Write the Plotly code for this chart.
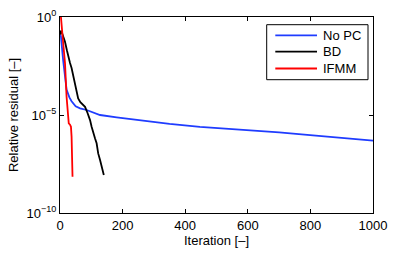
import plotly.graph_objects as go

# Data
series_names = ["No PC", "BD", "IFMM"]
series_colors = ["#1f3cff", "black", "#ff0000"]

nopc_iter = [0, 3, 10, 21, 30, 37, 50, 64, 85, 128, 181, 250, 288, 350, 447, 520, 607, 700, 799, 900, 1000]
nopc_res = [1.26e-1, 1.0e-1, 6.3e-3, 2.0e-4, 7.9e-5, 5.0e-5, 2.8e-5, 2.2e-5, 1.8e-5, 1.0e-5, 7.6e-6,
            5.6e-6, 4.6e-6, 3.5e-6, 2.5e-6, 2.1e-6, 1.7e-6, 1.3e-6, 9.5e-7, 7.1e-7, 4.9e-7]

bd_iter = [0, 3, 5, 10, 16, 22, 27, 32, 37, 43, 48, 53, 58, 65, 72, 80, 88, 96, 101, 106, 112, 117, 122, 128, 134, 140]
bd_res = [1.26e-1, 2.0e-1, 1.78e-1, 1.0e-1, 5.5e-2, 2.0e-2, 7.9e-3, 4.5e-3, 2.5e-3, 1.0e-3, 4.2e-4, 1.6e-4,
          7.1e-5, 4.5e-5, 3.5e-5, 2.6e-5, 1.26e-5, 5.5e-6, 2.5e-6, 1.2e-6, 6.3e-7, 3.6e-7, 1.1e-7, 5.0e-8,
          2.0e-8, 8.7e-9]

ifmm_iter = [0, 3, 10, 16, 21, 27, 28, 32, 35, 37, 38, 40]
ifmm_res = [2.0, 1.0, 5.0e-2, 4.4e-3, 8.5e-5, 5.5e-6, 3.7e-6, 3.2e-6, 2.5e-6, 7.9e-7, 1.0e-7, 7.1e-9]

x_ticks = [0, 200, 400, 600, 800, 1000]
y_tickvals = [1, 1e-5, 1e-10]
y_ticktext = ["10<sup>0</sup>", "10<sup>−5</sup>", "10<sup>−10</sup>"]

font = "Liberation Sans, Arial, Helvetica, sans-serif"

# Figure geometry (pixels)
W, H = 395, 253
ML, MR, MT, MB = 60, 22, 17, 40
PW, PH = W - ML - MR, H - MT - MB


def px_x(px):
    return (px - ML) / PW


def px_y(py):
    return (H - MB - py) / PH


fig = go.Figure()
for name, color, xs, ys in zip(series_names, series_colors,
                               [nopc_iter, bd_iter, ifmm_iter],
                               [nopc_res, bd_res, ifmm_res]):
    fig.add_trace(go.Scatter(x=xs, y=ys, mode="lines", name=name, showlegend=False,
                             line=dict(color=color, width=1.8)))

# Hand-drawn legend box (MATLAB style)
shapes = [dict(type="rect", xref="paper", yref="paper",
               x0=px_x(266.7), x1=px_x(368), y0=px_y(79.7), y1=px_y(24.7),
               line=dict(color="black", width=1), fillcolor="white", layer="above")]
annotations = []
row_y = [35.3, 51.6, 68.5]
for name, color, ry in zip(series_names, series_colors, row_y):
    shapes.append(dict(type="line", xref="paper", yref="paper",
                       x0=px_x(275.3), x1=px_x(317), y0=px_y(ry), y1=px_y(ry),
                       line=dict(color=color, width=1.8), layer="above"))
    annotations.append(dict(xref="paper", yref="paper", x=px_x(320.5), y=px_y(ry),
                            text=name, showarrow=False, xanchor="left", yanchor="middle",
                            font=dict(family=font, size=13, color="black")))

axis_common = dict(showgrid=False, zeroline=False, showline=True, linecolor="black", linewidth=1,
                   mirror="ticks", ticks="inside", ticklen=4, tickcolor="black", automargin=False,
                   tickfont=dict(family=font, size=13, color="black"))

fig.update_layout(
    width=W, height=H,
    margin=dict(l=ML, r=MR, t=MT, b=MB),
    paper_bgcolor="white", plot_bgcolor="white",
    font=dict(family=font, size=13, color="black"),
    showlegend=False,
    shapes=shapes,
    annotations=annotations,
    xaxis=dict(range=[0, 1000], tickvals=x_ticks,
               title=dict(text="Iteration [–]", font=dict(family=font, size=13), standoff=2),
               **axis_common),
    yaxis=dict(type="log", range=[-10, 0], tickvals=y_tickvals, ticktext=y_ticktext,
               title=dict(text="Relative residual [–]", font=dict(family=font, size=13), standoff=4),
               **axis_common),
)

fig.write_html("out.html", config={"displayModeBar": False},
               post_script="document.body.style.margin='0';document.body.style.overflow='hidden';")
